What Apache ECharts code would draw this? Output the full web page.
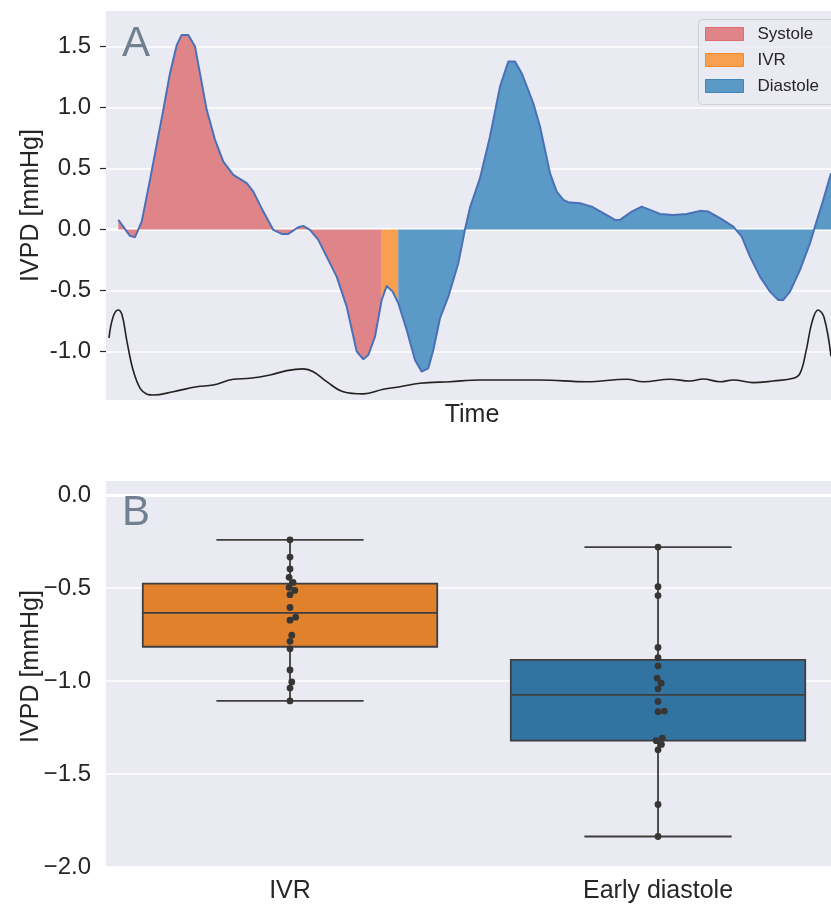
<!DOCTYPE html>
<html><head><meta charset="utf-8">
<script src="https://cdn.jsdelivr.net/npm/echarts@6/dist/echarts.min.js"></script>
<style>html,body{margin:0;padding:0;background:#fff}#c{width:831px;height:904px}</style>
</head><body><div id="c"></div>
<script>
// ---------- Panel A data ----------
const ivpdTime = [12.3,24,29,35.7,44,57.3,64,70.7,75.7,82.3,89,100.7,109,117.3,127.3,140.7,147.3,157.3,167.3,175.7,182.3,192.3,197.3,204,212.3,222.3,230.7,240.7,250.7,257.3,262.3,269,275.7,280.7,286.7,292.3,300.7,309,315.7,322.3,327.3,334,342.3,352.3,359,364,374,384,394,402.3,409,415.7,427.3,434,444,450.7,457.3,462.3,474,485.7,497.3,509,514,525.7,535.7,544,554,567.3,580.7,594,602.3,614,627.3,635.7,644,654,664,672.3,677.3,684,694,704,709,717.3,725];
const ivpdValues = [0.078,-0.053,-0.064,0.064,0.406,0.98,1.28,1.51,1.594,1.594,1.50,0.98,0.734,0.556,0.447,0.379,0.31,0.146,-0.004,-0.037,-0.037,0.018,0.029,-0.004,-0.086,-0.25,-0.387,-0.633,-1.0,-1.064,-1.029,-0.879,-0.578,-0.463,-0.51,-0.605,-0.824,-1.07,-1.166,-1.138,-0.988,-0.728,-0.551,-0.277,0.0,0.18,0.42,0.761,1.17,1.376,1.376,1.28,1.034,0.843,0.461,0.31,0.242,0.223,0.215,0.187,0.133,0.078,0.078,0.146,0.187,0.16,0.127,0.119,0.127,0.152,0.146,0.092,0.023,-0.059,-0.223,-0.387,-0.51,-0.578,-0.578,-0.51,-0.332,-0.113,0.023,0.242,0.461];
const ecgTime = [3,7,12,16,21,27,34,41,47.3,67.3,90.7,107.3,127.3,144,164,180.7,197.3,207.3,220.7,237.3,257.3,277.3,294,314,344,374,434,480.7,520.7,537.3,564,584,597.3,614,627.3,647.3,667.3,687.3,694,700,706,712,718,725];
const ecgValues = [-0.89,-0.72,-0.66,-0.70,-0.92,-1.15,-1.30,-1.35,-1.357,-1.33,-1.289,-1.275,-1.228,-1.22,-1.193,-1.157,-1.143,-1.166,-1.248,-1.33,-1.348,-1.31,-1.289,-1.261,-1.248,-1.234,-1.234,-1.248,-1.228,-1.248,-1.228,-1.242,-1.226,-1.248,-1.234,-1.256,-1.242,-1.22,-1.18,-1.0,-0.76,-0.66,-0.72,-1.04];
const ivrStart = 275.7, ivrEnd = 292.3;
const phaseNames = ['Systole', 'IVR', 'Diastole'];
const topTicks = [-1.0, -0.5, 0.0, 0.5, 1.0, 1.5];

// ---------- Panel B data ----------
const categories = ['IVR', 'Early diastole'];
const boxStats = [
  [-1.107, -0.816, -0.634, -0.477, -0.241],
  [-1.836, -1.321, -1.075, -0.887, -0.280]
];
const ivrPoints = [-0.241,-0.334,-0.398,-0.443,-0.470,-0.497,-0.513,-0.536,-0.605,-0.657,-0.673,-0.754,-0.787,-0.827,-0.941,-1.005,-1.038,-1.107];
const earlyDiastolePoints = [-0.280,-0.493,-0.541,-0.820,-0.875,-0.919,-0.985,-1.012,-1.042,-1.110,-1.162,-1.165,-1.307,-1.321,-1.341,-1.370,-1.664,-1.836];
const bottomTicks = [-2.0, -1.5, -1.0, -0.5, 0.0];

// ---------- styling ----------
const FONT = "'Liberation Sans', Arial, Helvetica, sans-serif";
const TXT = '#262626';
const BG = '#eaeaf2';
const fillColors = ['#df8589', '#f9a050', '#5b99c7'];
const legendBorders = ['#e06a70', '#f5882a', '#3f86c0'];
const boxColors = ['#e1812c', '#3274a1'];
const EDGE = '#3f3f3f';

const topGrid = {left: 106, top: 11, right: 0, height: 389};
const botGrid = {left: 106, top: 481, right: 0, height: 387};
const plotWidth = 831 - 106;
const topXMax = 725;
const botXMin = -0.5, botXMax = 1.47;
const botYMin = -2.0, botYMax = 0.075;

function pairs(xs, ys) { return xs.map((x, i) => [x, ys[i]]); }
const ivpdAll = pairs(ivpdTime, ivpdValues);
const phaseData = [
  ivpdAll.filter(p => p[0] <= ivrStart),
  ivpdAll.filter(p => p[0] >= ivrStart && p[0] <= ivrEnd),
  ivpdAll.filter(p => p[0] >= ivrEnd)
];

// beeswarm offsets (seaborn-like)
function swarm(values, center, r, pxX, pxY) {
  const sorted = values.slice().sort((a, b) => a - b);
  const placed = [];
  const out = [];
  for (const v of sorted) {
    const y = v * pxY;
    const cands = [0];
    for (const p of placed) {
      const dy = Math.abs(p.y - y);
      if (dy < 2 * r) {
        const dx = Math.sqrt(4 * r * r - dy * dy);
        cands.push(p.x + dx, p.x - dx);
      }
    }
    cands.sort((a, b) => Math.abs(a) - Math.abs(b));
    let chosen = 0;
    for (const c of cands) {
      if (placed.every(p => (p.x - c) ** 2 + (p.y - y) ** 2 >= 4 * r * r - 1e-6)) { chosen = c; break; }
    }
    placed.push({x: chosen, y: y});
    out.push([center + chosen / pxX, v]);
  }
  return out;
}
const pxPerX = plotWidth / (botXMax - botXMin);
const pxPerY = botGrid.height / (botYMax - botYMin);
const swarmData = swarm(ivrPoints, 0, 3.2, pxPerX, pxPerY)
  .concat(swarm(earlyDiastolePoints, 1, 3.2, pxPerX, pxPerY));

const BOX_W = 0.8, CAP_W = 0.4;
function renderBox(params, api) {
  const i = api.value(0);
  const mn = api.value(1), q1 = api.value(2), md = api.value(3), q3 = api.value(4), mx = api.value(5);
  const hw = BOX_W / 2, cw = CAP_W / 2;
  const bl = api.coord([i - hw, q1]), tr = api.coord([i + hw, q3]);
  const mL = api.coord([i - hw, md]), mR = api.coord([i + hw, md]);
  const pMax = api.coord([i, mx]), pMin = api.coord([i, mn]);
  const pQ3 = api.coord([i, q3]), pQ1 = api.coord([i, q1]);
  const cTL = api.coord([i - cw, mx]), cTR = api.coord([i + cw, mx]);
  const cBL = api.coord([i - cw, mn]), cBR = api.coord([i + cw, mn]);
  const st = {stroke: EDGE, lineWidth: 1.8, fill: null};
  const ln = (a, b) => ({type: 'line', shape: {x1: a[0], y1: a[1], x2: b[0], y2: b[1]}, style: st});
  return {type: 'group', children: [
    ln(pMax, pQ3), ln(pQ1, pMin), ln(cTL, cTR), ln(cBL, cBR),
    {type: 'rect', shape: {x: bl[0], y: tr[1], width: tr[0] - bl[0], height: bl[1] - tr[1]},
     style: {fill: boxColors[i], stroke: EDGE, lineWidth: 1.8}},
    ln(mL, mR)
  ]};
}

const zeroLine = (z) => ({
  silent: true, symbol: 'none', z: z, animation: false,
  label: {show: false},
  lineStyle: {color: '#ffffff', width: 3, type: 'solid'},
  data: [{yAxis: 0}]
});

const chart = echarts.init(document.getElementById('c'), null, {renderer: 'canvas'});
chart.setOption({
  animation: false,
  textStyle: {fontFamily: FONT, color: TXT},
  grid: [
    Object.assign({show: true, backgroundColor: BG, borderWidth: 0}, topGrid),
    Object.assign({show: true, backgroundColor: BG, borderWidth: 0}, botGrid)
  ],
  graphic: [
    {type: 'text', left: 122, top: 23, style: {text: 'A', fontSize: 42, fill: '#708090', fontFamily: FONT}, z: 10},
    {type: 'text', left: 122, top: 492, style: {text: 'B', fontSize: 42, fill: '#708090', fontFamily: FONT}, z: 10},
    {type: 'rect', shape: {x: 698.5, y: 19.5, width: 150, height: 85, r: 4},
     style: {fill: 'rgba(234,234,242,0.85)', stroke: '#cfcfd8', lineWidth: 1}, z: 3.5}
  ],
  legend: {
    left: 698, top: 19, orient: 'vertical',
    itemWidth: 38, itemHeight: 13, itemGap: 9,
    padding: [6.5, 10, 9, 7],
    icon: 'rect',
    textStyle: {fontSize: 17, color: TXT, fontFamily: FONT, padding: [0, 0, 0, 9]},
    data: phaseNames.map((n, k) => ({name: n, itemStyle: {color: fillColors[k], borderColor: legendBorders[k], borderWidth: 1}})),
    z: 5
  },
  xAxis: [
    {
      type: 'value', gridIndex: 0, min: 0, max: topXMax,
      axisLine: {show: false}, axisTick: {show: false}, axisLabel: {show: false}, splitLine: {show: false},
      name: 'Time', nameLocation: 'middle', nameGap: 3, nameMoveOverlap: false,
      nameTextStyle: {fontSize: 25, color: TXT, fontFamily: FONT, padding: [0, 0, 0, 7]}
    },
    {
      type: 'value', gridIndex: 1, min: botXMin, max: botXMax,
      axisLine: {show: false}, axisTick: {show: false}, splitLine: {show: false},
      axisLabel: {customValues: [0, 1], formatter: v => categories[Math.round(v)], fontSize: 25, color: TXT, fontFamily: FONT, margin: 12}
    }
  ],
  yAxis: [
    {
      type: 'value', gridIndex: 0, min: -1.398, max: 1.79,
      axisLine: {show: false},
      axisTick: {show: true, customValues: topTicks, length: 6, lineStyle: {color: TXT, width: 1.2}},
      axisLabel: {customValues: topTicks, formatter: v => v.toFixed(1), fontSize: 24, color: TXT, fontFamily: FONT, margin: 15},
      splitLine: {show: true, lineStyle: {color: '#ffffff', width: 1.5}},
      name: 'IVPD [mmHg]', nameLocation: 'middle', nameGap: 62, nameMoveOverlap: false,
      nameTextStyle: {fontSize: 25, color: TXT, fontFamily: FONT}
    },
    {
      type: 'value', gridIndex: 1, min: botYMin, max: botYMax,
      axisLine: {show: false},
      axisTick: {show: false, customValues: bottomTicks},
      axisLabel: {customValues: bottomTicks, formatter: v => v.toFixed(1).replace('-', '\u2212'), fontSize: 24, color: TXT, fontFamily: FONT, margin: 15},
      splitLine: {show: true, lineStyle: {color: '#ffffff', width: 1.5}},
      name: 'IVPD [mmHg]', nameLocation: 'middle', nameGap: 62, nameMoveOverlap: false,
      nameTextStyle: {fontSize: 25, color: TXT, fontFamily: FONT, padding: [0, 0, 0, 15]}
    }
  ],
  series: [
    ...phaseNames.map((n, k) => ({
      name: n, type: 'line', xAxisIndex: 0, yAxisIndex: 0,
      data: phaseData[k], showSymbol: false, symbol: 'none',
      lineStyle: {width: 0, opacity: 0},
      itemStyle: {color: fillColors[k]},
      areaStyle: {color: fillColors[k], opacity: 1, origin: 'auto'},
      z: 2
    })),
    {
      name: 'trace', type: 'line', xAxisIndex: 0, yAxisIndex: 0,
      data: pairs(ecgTime, ecgValues), showSymbol: false, symbol: 'none', smooth: 0.4,
      lineStyle: {color: '#222222', width: 1.6},
      markLine: zeroLine(2),
      z: 2
    },
    {
      name: 'ivpd', type: 'line', xAxisIndex: 0, yAxisIndex: 0,
      data: ivpdAll, showSymbol: false, symbol: 'none',
      lineStyle: {color: '#4a70b8', width: 2},
      z: 3
    },
    {
      name: 'box', type: 'custom', xAxisIndex: 1, yAxisIndex: 1,
      data: boxStats.map((s, i) => [i].concat(s)),
      encode: {x: 0, y: [1, 2, 3, 4, 5]},
      renderItem: renderBox,
      markLine: zeroLine(1),
      z: 2
    },
    {
      name: 'points', type: 'scatter', xAxisIndex: 1, yAxisIndex: 1,
      data: swarmData, symbolSize: 6.8,
      itemStyle: {color: '#363636', opacity: 1},
      z: 4
    }
  ]
});
</script></body></html>
